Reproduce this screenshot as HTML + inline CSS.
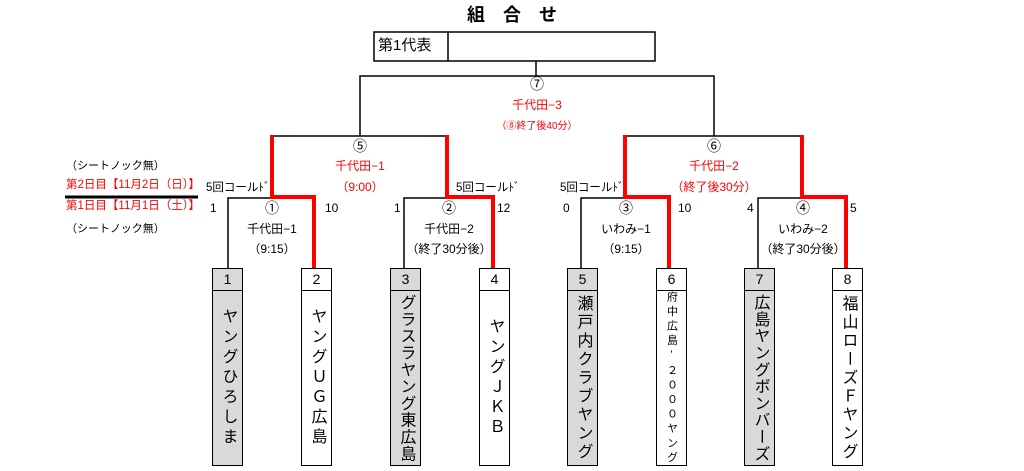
<!DOCTYPE html>
<html><head><meta charset="utf-8"><style>
body{margin:0;width:1024px;height:471px;background:#fff;position:relative;overflow:hidden;font-family:"Liberation Sans","Noto Sans CJK JP",sans-serif;color:#000}
.t{position:absolute;font-size:12px;line-height:14px;white-space:nowrap}
.c{transform:translateX(-50%)}
.r{color:#f00}
.b{position:absolute;border:1.5px solid #000;box-sizing:border-box;width:31px;overflow:hidden}
.num{position:absolute;height:21px;font-size:14px;text-align:center;line-height:20px}
.nm{writing-mode:vertical-rl;text-orientation:upright;font-size:16px;letter-spacing:1px;position:absolute;left:0;right:0;display:flex;align-items:center;justify-content:center;white-space:nowrap}
svg{position:absolute;left:0;top:0}
</style></head><body>
<svg width="1024" height="471">
<g stroke="#000" stroke-width="1.5" fill="none">
<rect x="374" y="32" width="281" height="29"/><line x1="448" y1="32" x2="448" y2="61"/>
<line x1="536" y1="61" x2="536" y2="76"/>
<polyline points="360,136 360,76 714,76 714,136"/>
<line x1="272" y1="136" x2="447" y2="136"/>
<line x1="625" y1="136" x2="802" y2="136"/>
<polyline points="228,268 228,198 314,198"/>
<polyline points="404,268 404,198 493,198"/>
<polyline points="581,268 581,198 669,198"/>
<polyline points="758,268 758,198 846,198"/>
<line x1="65" y1="197" x2="198" y2="197" stroke-width="3"/>
</g>
<g stroke="#f00" stroke-width="4" fill="none">
<polyline points="272,135 272,197 314,197 314,268"/>
<polyline points="447,135 447,197 493,197 493,268"/>
<polyline points="625,135 625,197 669,197 669,268"/>
<polyline points="802,135 802,197 846,197 846,268"/>
</g>
</svg>
<div class="t c" style="left:512px;top:4px;font-size:18px;font-weight:bold;line-height:22px">組　合　せ</div>
<div class="t" style="left:378px;top:37px;font-size:15px;line-height:18px">第1代表</div>
<div class="t c" style="left:537px;top:77px;font-size:14px">⑦</div>
<div class="t c r" style="left:537px;top:98px">千代田−3</div>
<div class="t c r" style="left:537px;top:120px;font-size:10px">（⑧終了後40分）</div>
<div class="t c" style="left:360px;top:139px;font-size:14px">⑤</div>
<div class="t c r" style="left:360px;top:159px">千代田−1</div>
<div class="t c r" style="left:360px;top:180px">（9:00）</div>
<div class="t c" style="left:714px;top:139px;font-size:14px">⑥</div>
<div class="t c r" style="left:714px;top:159px">千代田−2</div>
<div class="t c r" style="left:714px;top:180px">（終了後30分）</div>
<div class="t" style="left:66px;top:159px;font-size:11px">（シートノック無）</div>
<div class="t r" style="left:66px;top:178px;font-size:11.5px">第2日目【11月2日（日）】</div>
<div class="t r" style="left:66px;top:199px;font-size:11.5px">第1日目【11月1日（土）】</div>
<div class="t" style="left:66px;top:222px;font-size:11px">（シートノック無）</div>
<div class="t" style="left:206px;top:181px;font-size:11.5px">5回コールﾄﾞ</div>
<div class="t" style="left:456px;top:181px;font-size:11.5px">5回コールﾄﾞ</div>
<div class="t" style="left:560px;top:181px;font-size:11.5px">5回コールﾄﾞ</div>
<div class="t" style="left:210px;top:201px">1</div><div class="t" style="left:325px;top:201px">10</div>
<div class="t" style="left:394px;top:201px">1</div><div class="t" style="left:497px;top:201px">12</div>
<div class="t" style="left:563px;top:201px">0</div><div class="t" style="left:678px;top:201px">10</div>
<div class="t" style="left:747px;top:201px">4</div><div class="t" style="left:850px;top:201px">5</div>
<div class="t c" style="left:272px;top:201px;font-size:14px">①</div>
<div class="t c" style="left:272px;top:222px">千代田−1</div>
<div class="t c" style="left:272px;top:242px">（9:15）</div>
<div class="t c" style="left:449px;top:201px;font-size:14px">②</div>
<div class="t c" style="left:449px;top:222px">千代田−2</div>
<div class="t c" style="left:449px;top:242px">（終了30分後）</div>
<div class="t c" style="left:626px;top:201px;font-size:14px">③</div>
<div class="t c" style="left:626px;top:222px">いわみ−1</div>
<div class="t c" style="left:626px;top:242px">（9:15）</div>
<div class="t c" style="left:803px;top:201px;font-size:14px">④</div>
<div class="t c" style="left:803px;top:222px">いわみ−2</div>
<div class="t c" style="left:803px;top:242px">（終了30分後）</div>

<div class="b" style="left:212px;top:268px;height:198px;background:#d9d9d9"><div class="num" style="left:0;right:0;top:0;border-bottom:1.5px solid #000">1</div><div class="nm" style="top:22px;bottom:0;letter-spacing:4px">ヤングひろしま</div></div>
<div class="b" style="left:301px;top:268px;height:198px;background:#fff"><div class="num" style="left:0;right:0;top:0;border-bottom:1.5px solid #000">2</div><div class="nm" style="top:22px;bottom:0;letter-spacing:4px">ヤングＵＧ広島</div></div>
<div class="b" style="left:390px;top:268px;height:198px;background:#d9d9d9"><div class="num" style="left:0;right:0;top:0;border-bottom:1.5px solid #000">3</div><div class="nm" style="top:22px;bottom:0;letter-spacing:0.8px">グラスラヤング東広島</div></div>
<div class="b" style="left:479px;top:268px;height:198px;background:#fff"><div class="num" style="left:0;right:0;top:0;border-bottom:1.5px solid #000">4</div><div class="nm" style="top:22px;bottom:0;letter-spacing:4px">ヤングＪＫＢ</div></div>
<div class="b" style="left:567px;top:268px;height:198px;background:#d9d9d9"><div class="num" style="left:0;right:0;top:0;border-bottom:1.5px solid #000">5</div><div class="nm" style="top:22px;bottom:0;letter-spacing:2.5px">瀬戸内クラブヤング</div></div>
<div class="b" style="left:656px;top:268px;height:198px;background:#fff"><div class="num" style="left:0;right:0;top:0;border-bottom:1.5px solid #000">6</div><div class="nm" style="top:22px;bottom:0;font-size:11px;letter-spacing:3.5px">府中広島’２０００ヤング</div></div>
<div class="b" style="left:744px;top:268px;height:198px;background:#d9d9d9"><div class="num" style="left:0;right:0;top:0;border-bottom:1.5px solid #000">7</div><div class="nm" style="top:22px;bottom:0;letter-spacing:0.8px">広島ヤングボンバーズ</div></div>
<div class="b" style="left:832px;top:268px;height:198px;background:#fff"><div class="num" style="left:0;right:0;top:0;border-bottom:1.5px solid #000">8</div><div class="nm" style="top:22px;bottom:0;letter-spacing:2.5px">福山ローズＦヤング</div></div>
</body></html>
